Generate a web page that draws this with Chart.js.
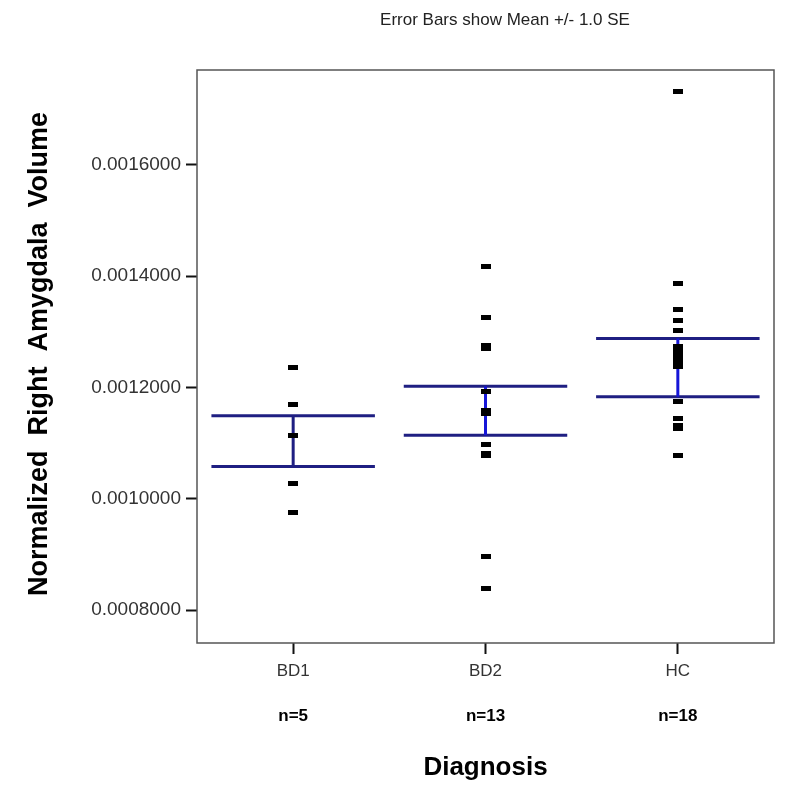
<!DOCTYPE html>
<html>
<head>
<meta charset="utf-8">
<script src="https://cdn.jsdelivr.net/npm/chart.js@4.4.1/dist/chart.umd.min.js"></script>
<style>
  body { margin: 0; background: #fff; }
  #wrap { width: 795px; height: 805px; }
</style>
</head>
<body>
<div id="wrap"><canvas id="chart" width="795" height="805"></canvas></div>
<script>
// groups on the x axis
const categories = ['BD1', 'BD2', 'HC'];
const groupSizes = ['n=5', 'n=13', 'n=18'];

// individual subjects
const bd1Values = [0.001235, 0.001169, 0.001113, 0.001027, 0.000975];
const bd2Values = [0.001418, 0.001326, 0.001276, 0.001273, 0.001270, 0.001193, 0.001158,
                   0.001153, 0.001097, 0.001082, 0.001077, 0.000897, 0.000838];
const hcValues = [0.001731, 0.001387, 0.001340, 0.001321, 0.001302, 0.001273, 0.001264,
                  0.001256, 0.001256, 0.001247, 0.001238, 0.001175, 0.001145, 0.001145,
                  0.001131, 0.001126, 0.001077, 0.001077];

// error bars: mean +/- 1 SE
const groupMeans = [0.0011035, 0.001158, 0.0012355];
const groupSE = [0.0000455, 0.000044, 0.0000525];

const yTicks = [0.0008, 0.0010, 0.0012, 0.0014, 0.0016];
const yMin = 0.000741;
const yMax = 0.00177;

const arial = '"Liberation Sans", Arial, sans-serif';

// small flat black rectangle used as marker
const marker = document.createElement('canvas');
marker.width = 10;
marker.height = 5;
marker.getContext('2d').fillRect(0, 0, 10, 5);

const points = [];
[bd1Values, bd2Values, hcValues].forEach((vals, i) => {
    vals.forEach(v => points.push({x: categories[i], y: v}));
});

const errorBars = {
    id: 'errorBars',
    beforeDatasetsDraw(chart) {
        const ctx = chart.ctx;
        const xs = chart.scales.x, ys = chart.scales.y;
        const half = (xs.getPixelForValue(1) - xs.getPixelForValue(0)) * 0.425;
        ctx.save();
        ctx.lineWidth = 3;
        groupMeans.forEach((m, i) => {
            const x = xs.getPixelForValue(i);
            const top = ys.getPixelForValue(m + groupSE[i]);
            const bot = ys.getPixelForValue(m - groupSE[i]);
            ctx.strokeStyle = '#1f1f82';
            ctx.beginPath();
            ctx.moveTo(x - half, top); ctx.lineTo(x + half, top);
            ctx.moveTo(x - half, bot); ctx.lineTo(x + half, bot);
            ctx.stroke();
            ctx.strokeStyle = i === 0 ? '#1f1f82' : '#1616d8';
            ctx.beginPath();
            ctx.moveTo(x, top); ctx.lineTo(x, bot);
            ctx.stroke();
        });
        ctx.restore();
    }
};

const decorations = {
    id: 'decorations',
    afterDraw(chart) {
        const ctx = chart.ctx;
        const a = chart.chartArea;
        const xs = chart.scales.x;
        ctx.save();
        // frame
        ctx.strokeStyle = '#555';
        ctx.lineWidth = 1.5;
        ctx.strokeRect(a.left, a.top, a.right - a.left, a.bottom - a.top);

        ctx.fillStyle = '#222';
        ctx.textAlign = 'center';
        ctx.textBaseline = 'middle';
        ctx.font = '17px ' + arial;
        ctx.fillText('Error Bars show Mean +/- 1.0 SE', 505, 20);

        ctx.fillStyle = '#000';
        ctx.font = 'bold 17px ' + arial;
        groupSizes.forEach((t, i) => ctx.fillText(t, xs.getPixelForValue(i), 716));

        ctx.font = 'bold 26px ' + arial;
        ctx.fillText('Diagnosis', (a.left + a.right) / 2, 768);

        ctx.translate(40, 354);
        ctx.rotate(-Math.PI / 2);
        ctx.font = 'bold 27px ' + arial;
        ctx.fillText('Normalized  Right  Amygdala  Volume', 0, 0);
        ctx.restore();
    }
};

new Chart(document.getElementById('chart'), {
    type: 'line',
    data: {
        labels: categories,
        datasets: [{
            data: points,
            showLine: false,
            pointStyle: marker,
            pointRadius: 3,
            pointHoverRadius: 3
        }]
    },
    options: {
        responsive: false,
        animation: false,
        events: [],
        layout: { padding: { top: 70, right: 21, left: 0, bottom: 0 } },
        plugins: { legend: { display: false }, tooltip: { enabled: false } },
        scales: {
            x: {
                type: 'category',
                offset: true,
                border: { display: false },
                grid: { offset: false, drawOnChartArea: false, tickLength: 11, tickColor: '#111', tickWidth: 2 },
                ticks: { color: '#333', font: { family: arial, size: 17 }, padding: 7 },
                afterFit(scale) { scale.height = 162; }
            },
            y: {
                min: yMin,
                max: yMax,
                border: { display: false },
                grid: { drawOnChartArea: false, tickLength: 11, tickColor: '#111', tickWidth: 2 },
                afterBuildTicks(scale) { scale.ticks = yTicks.map(v => ({value: v})); },
                ticks: {
                    color: '#333',
                    font: { family: arial, size: 19 },
                    padding: 5,
                    callback: v => v.toFixed(7)
                },
                afterFit(scale) { scale.width = 197; }
            }
        }
    },
    plugins: [errorBars, decorations]
});
</script>
</body>
</html>
